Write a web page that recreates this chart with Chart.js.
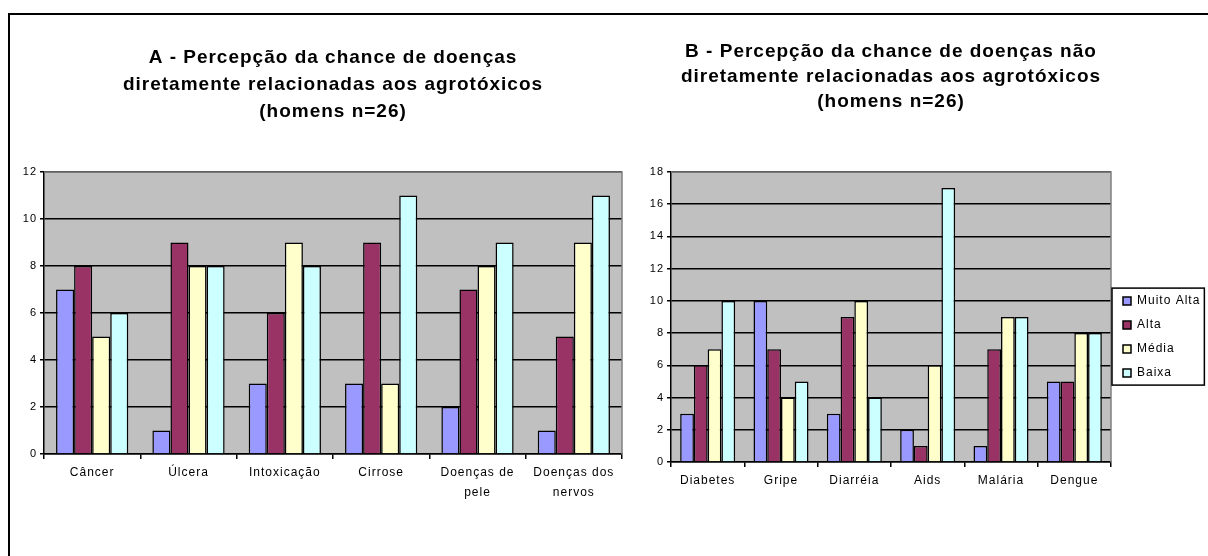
<!DOCTYPE html>
<html lang="pt-BR">
<head>
<meta charset="utf-8">
<title>Percepção da chance de doenças (homens n=26)</title>
<script src="https://cdn.jsdelivr.net/npm/chart.js@4.4.1/dist/chart.umd.min.js"></script>
<style>
  html, body { margin: 0; padding: 0; background: #fff; overflow: hidden; }
  body { width: 1208px; height: 556px; position: relative; }
  .moldura { position: absolute; left: 8px; top: 13px; width: 1300px; height: 700px;
             border-left: 2px solid #000; border-top: 2px solid #000; }
  .grafico { position: absolute; top: 0; height: 556px; }
  #boxA { left: 0; width: 640px; }
  #boxB { left: 640px; width: 568px; }
</style>
</head>
<body>
<div class="moldura"></div>
<div class="grafico" id="boxA"><canvas id="graficoA"></canvas></div>
<div class="grafico" id="boxB"><canvas id="graficoB"></canvas></div>
<script>
'use strict';

/* dados */
var niveis = ['Muito Alta', 'Alta', 'Média', 'Baixa'];
var cores = ['#9999FF', '#993366', '#FFFFCC', '#CCFFFF'];

var doencasA = ['Câncer', 'Úlcera', 'Intoxicação', 'Cirrose', ['Doenças de', 'pele'], ['Doenças dos', 'nervos']];
var muitoAltaA = [7, 1, 3, 3, 2, 1];
var altaA = [8, 9, 6, 9, 7, 5];
var mediaA = [5, 8, 9, 3, 8, 9];
var baixaA = [6, 8, 8, 11, 9, 11];

var doencasB = ['Diabetes', 'Gripe', 'Diarréia', 'Aids', 'Malária', 'Dengue'];
var muitoAltaB = [3, 10, 3, 2, 1, 5];
var altaB = [6, 7, 9, 1, 7, 5];
var mediaB = [7, 4, 10, 6, 9, 8];
var baixaB = [10, 5, 4, 17, 9, 8];

var maxA = 12;
var maxB = 18;
var passo = 2;

Chart.defaults.font.family = "'Liberation Sans', Arial, sans-serif";
Chart.defaults.color = '#000';

/* one dataset per level */
function series(valores) {
	return valores.map(function (v, i) {
		return {
			label: niveis[i],
			data: v,
			backgroundColor: cores[i],
			borderColor: '#000',
			borderWidth: 1.5,
			categoryPercentage: 0.75,
			barPercentage: 1
		};
	});
}

function escalas(max, larguraY, alturaX) {
	return {
		x: {
			grid: { offset: true, drawOnChartArea: false, color: '#000', tickLength: 5, lineWidth: 1.5 },
			border: { color: '#000', width: 1.5 },
			ticks: { font: { size: 12, lineHeight: '20px' }, padding: 4, maxRotation: 0, autoSkip: false },
			afterFit: function (s) { s.height = alturaX; }
		},
		y: {
			min: 0,
			max: max,
			ticks: { stepSize: passo, font: { size: 11 }, padding: 3 },
			grid: { color: '#000', tickLength: 4, lineWidth: 1.5 },
			border: { color: '#000', width: 1.5 },
			afterFit: function (s) { s.width = larguraY; }
		}
	};
}

/* gray plot area, wide Excel-like letter spacing, framed legend */
var estiloExcel = {
	id: 'estiloExcel',
	beforeLayout: function (chart) { chart.ctx.letterSpacing = '1px'; },
	beforeDraw: function (chart) {
		var a = chart.chartArea, ctx = chart.ctx;
		ctx.letterSpacing = '1px';
		ctx.save();
		ctx.fillStyle = '#C0C0C0';
		ctx.fillRect(a.left, a.top, a.width, a.height);
		ctx.restore();
	},
	afterDraw: function (chart) {
		var a = chart.chartArea, ctx = chart.ctx;
		ctx.save();
		ctx.strokeStyle = '#808080';
		ctx.lineWidth = 1.5;
		ctx.beginPath();
		ctx.moveTo(a.left, a.top);
		ctx.lineTo(a.right, a.top);
		ctx.lineTo(a.right, a.bottom);
		ctx.stroke();

		var lg = chart.legend;
		if (lg && lg.options.display) {
			var hb = lg.legendHitBoxes;
			var ult = hb[hb.length - 1];
			var larg = 0;
			hb.forEach(function (h) { larg = Math.max(larg, h.left + h.width); });
			var x1 = a.right + 1;
			var x2 = larg + 4;
			var y1 = hb[0].top - 7;
			var y2 = ult.top + ult.height + 6;
			ctx.strokeStyle = '#000';
			ctx.lineWidth = 1.5;
			ctx.strokeRect(x1, y1, x2 - x1, y2 - y1);
		}
		ctx.restore();
	}
};

/* chart A */
var chartA = new Chart(document.getElementById('graficoA'), {
	type: 'bar',
	data: {
		labels: doencasA,
		datasets: series([muitoAltaA, altaA, mediaA, baixaA])
	},
	options: {
		responsive: true,
		maintainAspectRatio: false,
		animation: false,
		layout: { padding: { left: 0, right: 18, top: 44, bottom: 0 } },
		scales: escalas(maxA, 44, 102),
		plugins: {
			legend: { display: false },
			tooltip: { enabled: false },
			title: {
				display: true,
				fullSize: false,
				text: ['A - Percepção da chance de doenças', 'diretamente relacionadas aos agrotóxicos', '(homens n=26)'],
				font: { size: 19, weight: 'bold', lineHeight: '27px' },
				padding: { top: 0, bottom: 47 }
			}
		}
	},
	plugins: [estiloExcel]
});

/* chart B */
var chartB = new Chart(document.getElementById('graficoB'), {
	type: 'bar',
	data: {
		labels: doencasB,
		datasets: series([muitoAltaB, altaB, mediaB, baixaB])
	},
	options: {
		responsive: true,
		maintainAspectRatio: false,
		animation: false,
		layout: { padding: { left: 0, right: 4, top: 39, bottom: 0 } },
		scales: escalas(maxB, 31, 94),
		plugins: {
			tooltip: { enabled: false },
			legend: {
				position: 'right',
				fullSize: false,
				align: 'center',
				maxWidth: 93,
				// empty title only pushes the items down, like the Excel legend
				title: { display: true, text: '', font: { size: 1 }, padding: { top: 39, bottom: 0 } },
				labels: { boxWidth: 8, boxHeight: 8, padding: 12, font: { size: 12 }, color: '#000' }
			},
			title: {
				display: true,
				fullSize: false,
				text: ['B - Percepção da chance de doenças não', 'diretamente relacionadas aos agrotóxicos', '(homens n=26)'],
				font: { size: 19, weight: 'bold', lineHeight: '25px' },
				padding: { top: 0, bottom: 58 }
			}
		}
	},
	plugins: [estiloExcel]
});
</script>
</body>
</html>
